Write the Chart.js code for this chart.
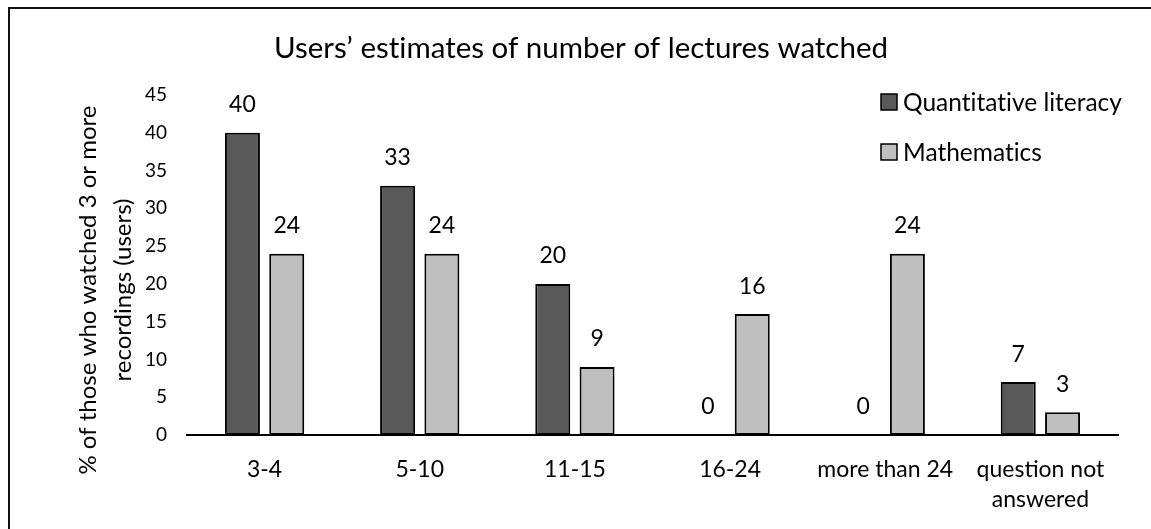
<!DOCTYPE html>
<html>
<head>
<meta charset="utf-8">
<script src="https://cdn.jsdelivr.net/npm/chart.js@4/dist/chart.umd.min.js"></script>
<style>
  html, body { margin: 0; padding: 0; background: #fff; }
  #wrap { position: relative; width: 1151px; height: 529px; }
</style>
</head>
<body>
<div id="wrap"><canvas id="c"></canvas></div>
<script>
const categories = ['3-4', '5-10', '11-15', '16-24', 'more than 24', ['question not', 'answered']];
const quantitativeLiteracy = [40, 33, 20, 0, 0, 7];
const mathematics = [24, 24, 9, 16, 24, 3];
const seriesNames = ['Quantitative literacy', 'Mathematics'];
const yTicks = [0, 5, 10, 15, 20, 25, 30, 35, 40, 45];
const chartTitle = 'Users\u2019 estimates of number of lectures watched';
const yTitleLines = ['% of those who watched 3 or more', 'recordings (users)'];

const FONT = 'Lato, "Liberation Sans", sans-serif';
// break Lato's "ti" ligature so the text looks like the reference
const noLig = s => s.replace(/ti/g, 't\u200Ci').replace(/f([il])/g, 'f\u200C$1');

const framePlugin = {
  id: 'frame',
  beforeDraw(chart) {
    const ctx = chart.ctx;
    ctx.save();
    ctx.strokeStyle = '#111';
    ctx.lineWidth = 2;
    ctx.beginPath();
    ctx.moveTo(9, chart.height);
    ctx.lineTo(9, 8);
    ctx.lineTo(chart.width, 8);
    ctx.stroke();
    ctx.restore();
  }
};

const textPlugin = {
  id: 'texts',
  afterDraw(chart) {
    const ctx = chart.ctx;
    ctx.save();
    ctx.fillStyle = '#000';
    // title
    ctx.font = '29.5px ' + FONT;
    ctx.textAlign = 'center';
    ctx.textBaseline = 'middle';
    ctx.fillText(noLig(chartTitle), 581, 48);
    // y axis title
    ctx.save();
    ctx.translate(0, 290);
    ctx.rotate(-Math.PI / 2);
    ctx.font = '24px ' + FONT;
    ctx.fillText(noLig(yTitleLines[0]), 0, 88);
    ctx.fillText(noLig(yTitleLines[1]), 0, 123);
    ctx.restore();
    // legend
    const ds = chart.data.datasets;
    ctx.font = '24.5px ' + FONT;
    ctx.textAlign = 'left';
    ds.forEach((d, i) => {
      const cy = 102 + i * 50;
      ctx.fillStyle = d.backgroundColor;
      ctx.fillRect(881, cy - 8, 16, 16);
      ctx.strokeStyle = '#000';
      ctx.lineWidth = 1.5;
      ctx.strokeRect(881, cy - 8, 16, 16);
      ctx.fillStyle = '#000';
      ctx.fillText(noLig(d.label), 903, cy + 1);
    });
    // data labels
    ctx.font = '23px ' + FONT;
    ctx.textAlign = 'center';
    ds.forEach((d, i) => {
      const meta = chart.getDatasetMeta(i);
      meta.data.forEach((bar, j) => {
        ctx.fillText(String(d.data[j]), bar.x, bar.y - 28);
      });
    });
    ctx.restore();
  }
};

new Chart(document.getElementById('c'), {
  type: 'bar',
  data: {
    labels: categories,
    datasets: [
      {
        label: seriesNames[0],
        data: quantitativeLiteracy,
        backgroundColor: '#595959',
        borderColor: '#000',
        borderWidth: 2,
        borderSkipped: false,
        categoryPercentage: 0.571,
        barPercentage: 0.79
      },
      {
        label: seriesNames[1],
        data: mathematics,
        backgroundColor: '#bfbfbf',
        borderColor: '#000',
        borderWidth: 2,
        borderSkipped: false,
        categoryPercentage: 0.571,
        barPercentage: 0.79
      }
    ]
  },
  options: {
    responsive: true,
    maintainAspectRatio: false,
    animation: false,
    layout: { padding: { top: 95, right: 33, bottom: 0, left: 0 } },
    plugins: {
      legend: { display: false },
      title: { display: false },
      tooltip: { enabled: false }
    },
    scales: {
      x: {
        grid: { display: false, drawTicks: false },
        border: { display: true, color: '#000', width: 2 },
        ticks: {
          color: '#000',
          font: { family: FONT, size: 23, lineHeight: '30px' },
          padding: 20,
          maxRotation: 0,
          autoSkip: false
        },
        afterFit(s) { s.height = 94; }
      },
      y: {
        min: 0,
        max: 45,
        afterBuildTicks(s) { s.ticks = yTicks.map(v => ({ value: v })); },
        grid: { display: false, drawTicks: false },
        border: { display: false },
        ticks: {
          color: '#000',
          font: { family: FONT, size: 19 },
          padding: 20
        },
        afterFit(s) { s.width = 187; }
      }
    }
  },
  plugins: [framePlugin, textPlugin]
});
</script>
</body>
</html>
